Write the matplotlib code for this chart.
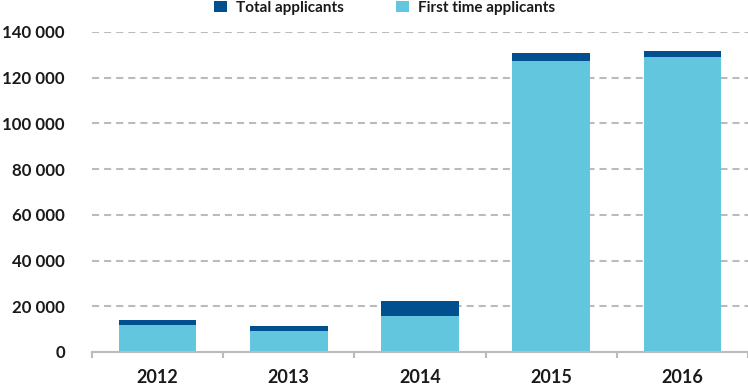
import matplotlib
matplotlib.use("Agg")
import matplotlib.pyplot as plt
import numpy as np
from matplotlib.ticker import FuncFormatter, MultipleLocator

years = ["2012", "2013", "2014", "2015", "2016"]
total_applicants = [13800, 11200, 22100, 130900, 131800]
first_time_applicants = [12000, 9300, 15700, 127200, 129200]

dark = "#00508F"
light = "#62C6DE"
txt = "#1a1a1a"

plt.rcParams['font.family'] = ['Lato', 'DejaVu Sans']

fig = plt.figure(figsize=(7.48, 3.85), dpi=100)
ax = fig.add_axes([92/748, 33/385, 1 - 92/748, (352-32)/385])

x = np.arange(len(years))
w = 0.59
ax.bar(x, total_applicants, width=w, color=dark, zorder=3, label="Total applicants")
ax.bar(x, first_time_applicants, width=w, color=light, zorder=4, label="First time applicants")

ax.set_xlim(-0.5, len(years) - 0.5)
ax.set_ylim(0, 140000)
ax.yaxis.set_major_locator(MultipleLocator(20000))
ax.yaxis.set_major_formatter(FuncFormatter(lambda v, p: f"{int(v):,}".replace(",", " ")))
ax.grid(axis='y', color='#BBBBBB', linestyle=(0, (3.4, 2.4)), linewidth=1.5, zorder=0)
for s in ['top', 'right', 'left']:
    ax.spines[s].set_visible(False)
ax.spines['bottom'].set_color('#BBBBBB')
ax.spines['bottom'].set_linewidth(1.5)
ax.spines['bottom'].set_zorder(5)

ax.set_xticks(x)
ax.set_xticklabels(years, fontsize=13, fontweight='bold', color=txt)
ax.set_xticks(np.arange(-0.5, len(years)), minor=True)
ax.tick_params(axis='x', which='major', length=0, pad=12.5)
ax.tick_params(axis='x', which='minor', length=4, color='#BBBBBB', width=1.5)
ax.tick_params(axis='y', length=0, pad=19.5, labelsize=12.2, labelcolor=txt)
for lab in ax.get_yticklabels():
    lab.set_fontweight('bold')

leg = fig.legend(loc='upper left', bbox_to_anchor=(214/748, 1 - 0.5/385), ncol=2, frameon=False,
                 fontsize=11, handlelength=0.85, handleheight=0.8, columnspacing=3.4,
                 handletextpad=0.6, borderpad=0, borderaxespad=0)
for t in leg.get_texts():
    t.set_fontweight('bold')
    t.set_color(txt)

fig.savefig("out.png", dpi=100)
